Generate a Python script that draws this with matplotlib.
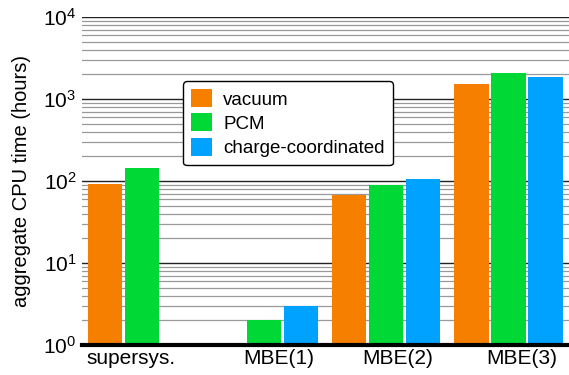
import matplotlib.pyplot as plt
from matplotlib.ticker import LogLocator, FixedLocator

plt.rcParams['font.family'] = ['Liberation Sans', 'DejaVu Sans']

groups = ['supersys.', 'MBE(1)', 'MBE(2)', 'MBE(3)']
series = ['vacuum', 'PCM', 'charge-coordinated']
vacuum = [92, None, 67, 1520]
pcm = [144, 2.0, 89, 2090]
charge = [None, 3.0, 106, 1860]
colors = ['#F77F00', '#00D836', '#00A2FF']

fig = plt.figure(figsize=(5.69, 3.75), dpi=100)
ax = fig.add_axes([0.144, 0.08, 0.856, 0.8747])

centers = [0, 3.3, 6.6, 9.9]
for k, (name, vals, c) in enumerate(zip(series, [vacuum, pcm, charge], colors)):
    xs = [g + (k - 1) for g, v in zip(centers, vals) if v is not None]
    ys = [v for v in vals if v is not None]
    ax.bar(xs, ys, width=0.93, color=c, label=name, zorder=3)

ax.set_yscale('log')
ax.set_ylim(1, 1e4)
ax.set_xlim(-1.62, 11.54)
ax.yaxis.set_major_locator(LogLocator(base=10, numticks=10))
ax.yaxis.set_minor_locator(LogLocator(base=10, subs=range(2, 10), numticks=20))
ax.grid(True, which='major', axis='y', color='#222222', lw=1.0, zorder=1)
ax.grid(True, which='minor', axis='y', color='#999999', lw=0.9, zorder=1)

# labels sit slightly right of group centres
label_pos = [-0.3, 3.7, 6.9, 10.25]
ax.xaxis.set_major_locator(FixedLocator(label_pos))
ax.set_xticklabels(groups, fontsize=15)
ax.tick_params(axis='y', length=0, labelsize=15, pad=4)
ax.tick_params(axis='x', length=0, pad=3)
ax.tick_params(which='minor', length=0)

for s in ['top', 'right', 'left']:
    ax.spines[s].set_visible(False)
ax.spines['bottom'].set_linewidth(3)
ax.spines['bottom'].set_zorder(4)

ax.set_ylabel('aggregate CPU time (hours)', fontsize=14.5, labelpad=9)

leg = ax.legend(loc='upper left', bbox_to_anchor=(0.207, 0.805), borderaxespad=0,
                fontsize=13.5, frameon=True, fancybox=True, edgecolor='black',
                framealpha=1, handlelength=1.1, handleheight=1.1, handletextpad=0.6,
                labelspacing=0.25, borderpad=0.45)
leg.get_frame().set_linewidth(1.0)

fig.savefig('out.png', dpi=100)
